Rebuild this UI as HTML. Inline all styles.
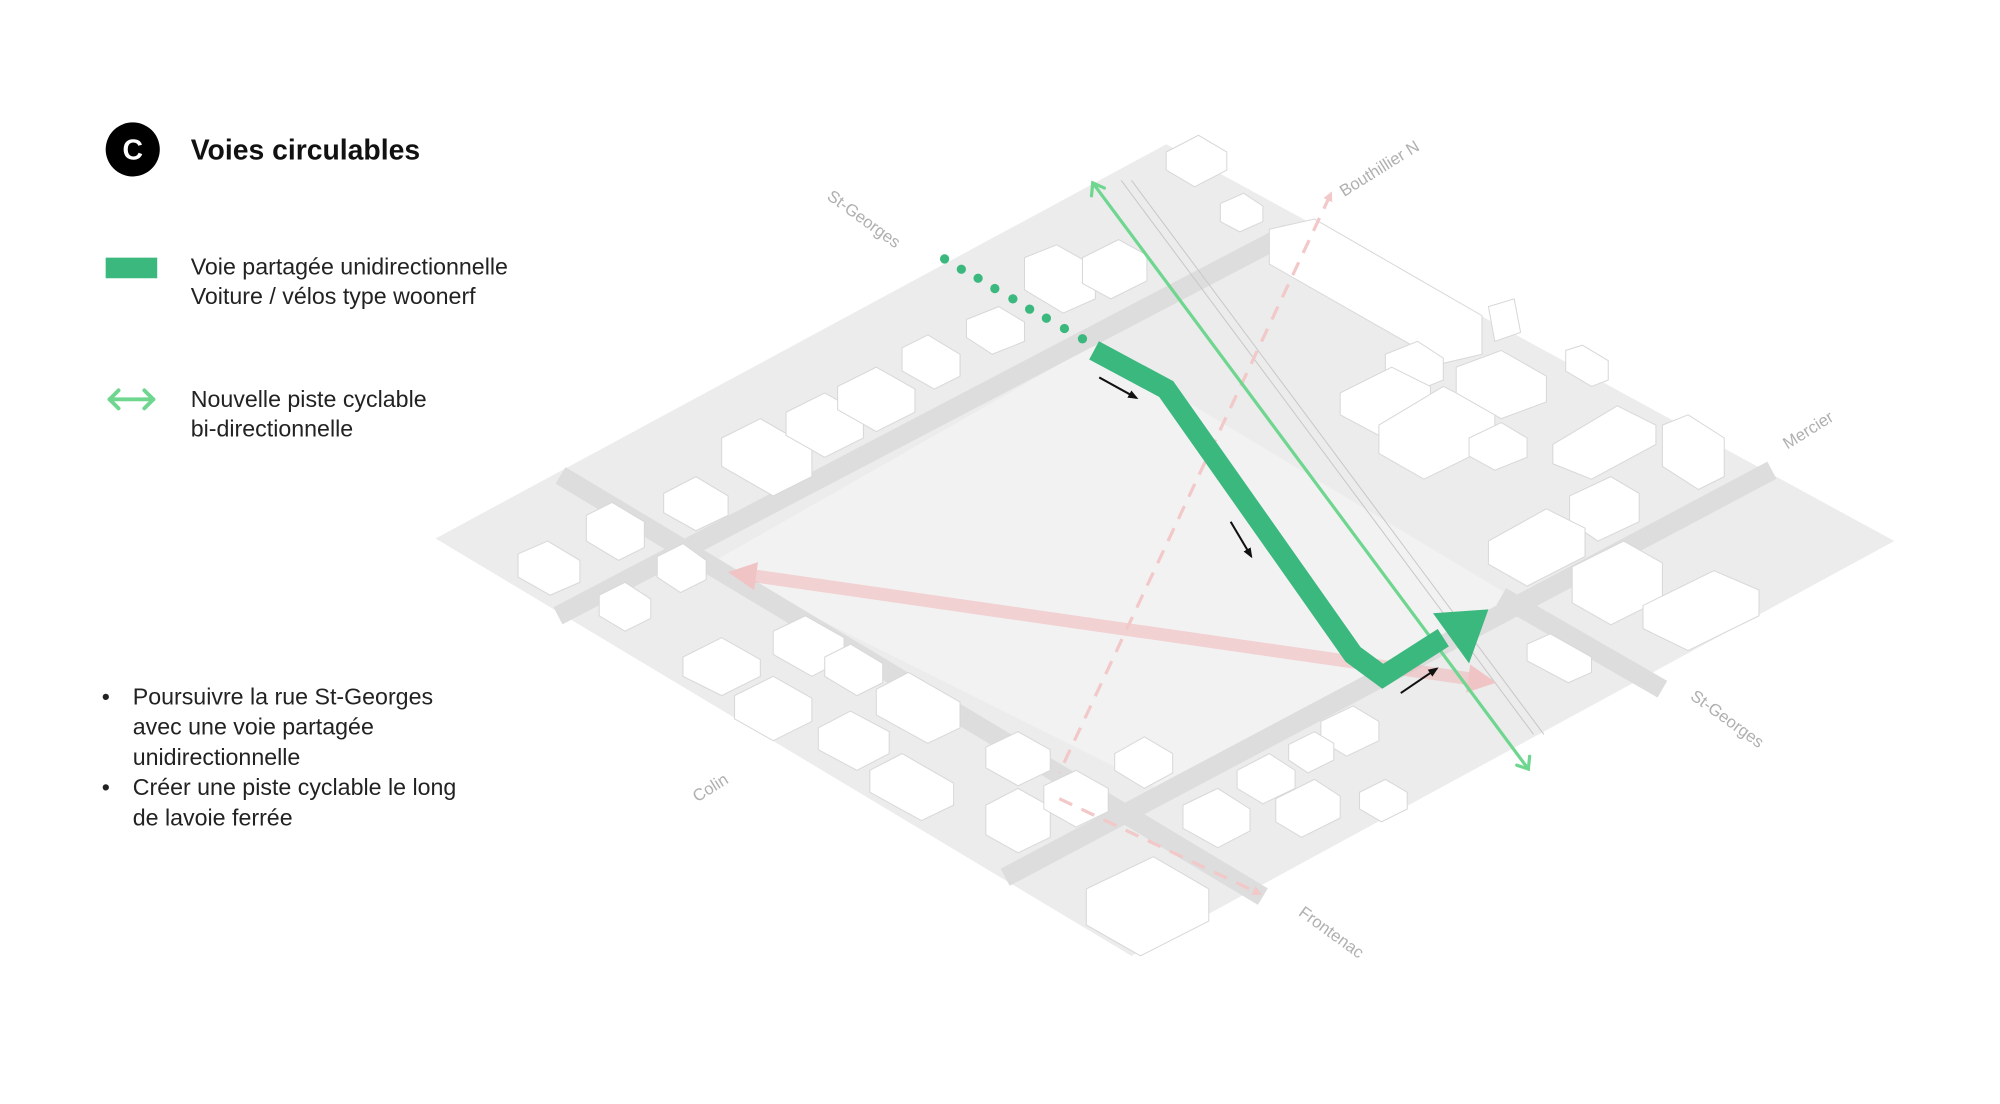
<!DOCTYPE html>
<html><head><meta charset="utf-8"><style>
html,body{margin:0;padding:0;background:#fff;}
svg{display:block}
text{font-family:"Liberation Sans",sans-serif;}
</style></head><body>
<svg width="2000" height="1104" viewBox="0 0 1552 857" preserveAspectRatio="none" xmlns="http://www.w3.org/2000/svg">
<defs>
<marker id="pk" viewBox="0 0 10 10" refX="4" refY="5" markerWidth="2.2" markerHeight="2.2" orient="auto-start-reverse"><path d="M0,0L10,5L0,10z" fill="#f0c4c4"/></marker>
<marker id="pk2" viewBox="0 0 10 10" refX="5" refY="5" markerWidth="3" markerHeight="3" orient="auto-start-reverse"><path d="M0,0L10,5L0,10z" fill="#f2c8c8"/></marker>
<marker id="bk" viewBox="0 0 10 10" refX="8" refY="5" markerWidth="5" markerHeight="5" orient="auto"><path d="M0,1L10,5L0,9z" fill="#111"/></marker>
</defs>

<!-- legend -->
<circle cx="103" cy="116" r="21" fill="#000"/>
<text x="103" y="124" font-size="22" font-weight="bold" fill="#fff" text-anchor="middle">C</text>
<text x="148" y="124" font-size="22" font-weight="bold" fill="#111">Voies circulables</text>
<rect x="82" y="200" width="40" height="16" fill="#3bb87e"/>
<text x="148" y="213" font-size="18" fill="#222">Voie partagée unidirectionnelle</text>
<text x="148" y="236" font-size="18" fill="#222">Voiture / vélos type woonerf</text>
<g stroke="#6fd690" stroke-width="3" fill="none" stroke-linecap="round" stroke-linejoin="round">
<line x1="85" y1="310" x2="119" y2="310"/>
<polyline points="92,303 85,310 92,317"/>
<polyline points="112,303 119,310 112,317"/>
</g>
<text x="148" y="316" font-size="18" fill="#222">Nouvelle piste cyclable</text>
<text x="148" y="339" font-size="18" fill="#222">bi-directionnelle</text>
<g font-size="18" fill="#222">
<text x="79" y="547">•</text><text x="103" y="547">Poursuivre la rue St-Georges</text>
<text x="103" y="570">avec une voie partagée</text>
<text x="103" y="594">unidirectionnelle</text>
<text x="79" y="617">•</text><text x="103" y="617">Créer une piste cyclable le long</text>
<text x="103" y="641">de lavoie ferrée</text>
</g>

<!-- ground -->
<polygon points="338,418 905,112 1470,420 878,742" fill="#ececec"/>
<polygon points="550,438 848,268 1181,468 905,615" fill="#f3f2f3"/>
<g stroke="#dddddd" stroke-width="15" stroke-linecap="butt">
<line x1="433" y1="478" x2="1000" y2="181"/>
<line x1="435" y1="369" x2="980" y2="696"/>
<line x1="780" y1="681" x2="1375" y2="365"/>
<line x1="1165" y1="463" x2="1290" y2="535"/>
</g>
<!-- railway -->
<line x1="870" y1="140" x2="1190" y2="570" stroke="#c8c8c8" stroke-width="0.8"/>
<line x1="878" y1="140" x2="1198" y2="570" stroke="#c8c8c8" stroke-width="0.8"/>

<!-- buildings -->
<g fill="#fff" stroke="#d8d8d8" stroke-width="0.8">
<polygon points="905,118 930,105 952,118 952,132 927,145 905,132"/>
<polygon points="947,158 965,150 980,160 980,172 962,180 947,172"/>
<polygon points="795,200 820,190 850,207 850,232 825,243 795,225"/>
<polygon points="840,200 868,186 890,198 890,218 862,232 840,220"/>
<polygon points="985,178 1020,170 1150,245 1150,275 1120,282 985,205"/>
<polygon points="1155,238 1175,232 1180,258 1160,265"/>
<polygon points="1075,275 1100,265 1120,278 1120,295 1095,305 1075,292"/>
<polygon points="1040,305 1080,285 1110,300 1110,320 1070,338 1040,322"/>
<polygon points="1070,330 1120,300 1160,320 1160,345 1105,372 1070,352"/>
<polygon points="1140,340 1165,328 1185,340 1185,355 1160,365 1140,354"/>
<polygon points="1130,285 1165,272 1200,292 1200,312 1165,325 1130,305"/>
<polygon points="1215,272 1228,268 1248,280 1248,295 1235,300 1215,288"/>
<polygon points="1205,345 1255,315 1285,330 1285,345 1235,372 1205,360"/>
<polygon points="1290,330 1310,322 1338,340 1338,370 1318,380 1290,362"/>
<polygon points="1218,385 1250,370 1272,383 1272,405 1240,420 1218,405"/>
<polygon points="1155,420 1200,395 1230,410 1230,432 1185,455 1155,438"/>
<polygon points="1220,440 1260,420 1290,437 1290,465 1250,485 1220,468"/>
<polygon points="1275,470 1330,443 1365,458 1365,478 1310,505 1275,488"/>
<polygon points="1185,500 1203,492 1235,510 1235,522 1217,530 1185,513"/>
<polygon points="560,340 590,325 630,348 630,370 600,385 560,362"/>
<polygon points="610,320 640,305 670,322 670,340 640,355 610,338"/>
<polygon points="650,300 680,285 710,302 710,320 680,335 650,318"/>
<polygon points="700,270 720,260 745,275 745,292 725,302 700,288"/>
<polygon points="750,248 775,238 795,250 795,265 770,275 750,262"/>
<polygon points="515,383 540,370 565,385 565,400 540,412 515,398"/>
<polygon points="455,400 475,390 500,405 500,425 480,435 455,420"/>
<polygon points="402,430 425,420 450,435 450,452 427,462 402,448"/>
<polygon points="465,462 485,452 505,465 505,480 485,490 465,478"/>
<polygon points="510,432 530,422 548,435 548,450 528,460 510,448"/>
<polygon points="530,510 560,495 590,512 590,525 560,540 530,525"/>
<polygon points="570,540 600,525 630,542 630,560 600,575 570,558"/>
<polygon points="600,490 625,478 655,495 655,512 630,525 600,508"/>
<polygon points="640,510 660,500 685,515 685,530 665,540 640,525"/>
<polygon points="635,565 660,552 690,568 690,585 665,598 635,582"/>
<polygon points="680,535 705,522 745,545 745,565 720,577 680,555"/>
<polygon points="675,598 700,585 740,608 740,625 715,637 675,615"/>
<polygon points="765,580 790,568 815,582 815,598 790,610 765,596"/>
<polygon points="765,625 790,612 815,626 815,650 790,662 765,648"/>
<polygon points="810,610 835,598 860,612 860,630 835,642 810,628"/>
<polygon points="843,690 895,665 938,690 938,715 885,742 843,718"/>
<polygon points="1025,560 1050,548 1070,560 1070,575 1045,587 1025,575"/>
<polygon points="960,598 985,585 1005,598 1005,612 980,624 960,612"/>
<polygon points="990,620 1020,605 1040,618 1040,635 1010,650 990,638"/>
<polygon points="1055,615 1075,605 1092,615 1092,628 1072,638 1055,628"/>
<polygon points="1000,578 1020,568 1035,577 1035,590 1015,600 1000,590"/>
<polygon points="918,625 945,612 970,628 970,645 945,658 918,643"/>
<polygon points="865,585 888,572 910,585 910,600 888,612 865,598"/>
</g>

<!-- pink arrows -->
<line x1="578" y1="446" x2="1148" y2="528" stroke="#f0a8a8" stroke-opacity="0.45" stroke-width="10" marker-start="url(#pk)" marker-end="url(#pk)"/>
<polyline points="1032,152 822,600" fill="none" stroke="#f2c8c8" stroke-width="2.5" stroke-dasharray="11,8" marker-start="url(#pk2)"/>
<polyline points="822,620 976,693" fill="none" stroke="#f2c8c8" stroke-width="2.5" stroke-dasharray="11,8" marker-end="url(#pk2)"/>

<!-- green bike line -->
<g stroke="#6fd690" stroke-width="2.5" fill="none" stroke-linecap="round">
<line x1="848" y1="142" x2="1186" y2="597"/>
<polyline points="847,152 848,142 857,146"/>
<polyline points="1177,594 1186,597 1187,587"/>
</g>

<!-- dotted green -->
<g fill="#3bb87e">
<circle cx="733" cy="201" r="3.6"/><circle cx="746" cy="209" r="3.6"/><circle cx="759" cy="216" r="3.6"/>
<circle cx="772" cy="224" r="3.6"/><circle cx="786" cy="232" r="3.6"/><circle cx="799" cy="240" r="3.6"/>
<circle cx="812" cy="247" r="3.6"/><circle cx="826" cy="255" r="3.6"/><circle cx="840" cy="263" r="3.6"/>
</g>
<!-- green main path -->
<polyline points="849,272 905,302 1050,508 1073,525 1120,495" fill="none" stroke="#3bb87e" stroke-width="16" stroke-linejoin="miter"/>
<polygon points="1112,476 1155,473 1140,515" fill="#3bb87e"/>

<!-- black arrows -->
<line x1="853" y1="293" x2="882" y2="309" stroke="#111" stroke-width="1.6" marker-end="url(#bk)"/>
<line x1="955" y1="405" x2="971" y2="432" stroke="#111" stroke-width="1.6" marker-end="url(#bk)"/>
<line x1="1087" y1="538" x2="1115" y2="519" stroke="#111" stroke-width="1.6" marker-end="url(#bk)"/>

<!-- street labels -->
<g font-size="13" fill="#b0b0b0">
<text transform="translate(641,154) rotate(36)">St-Georges</text>
<text transform="translate(1043,153) rotate(-32)">Bouthillier N</text>
<text transform="translate(1387,349) rotate(-32)">Mercier</text>
<text transform="translate(1311,542) rotate(36)">St-Georges</text>
<text transform="translate(541,623) rotate(-32)">Colin</text>
<text transform="translate(1007,710) rotate(36)">Frontenac</text>
</g>
</svg>
</body></html>
